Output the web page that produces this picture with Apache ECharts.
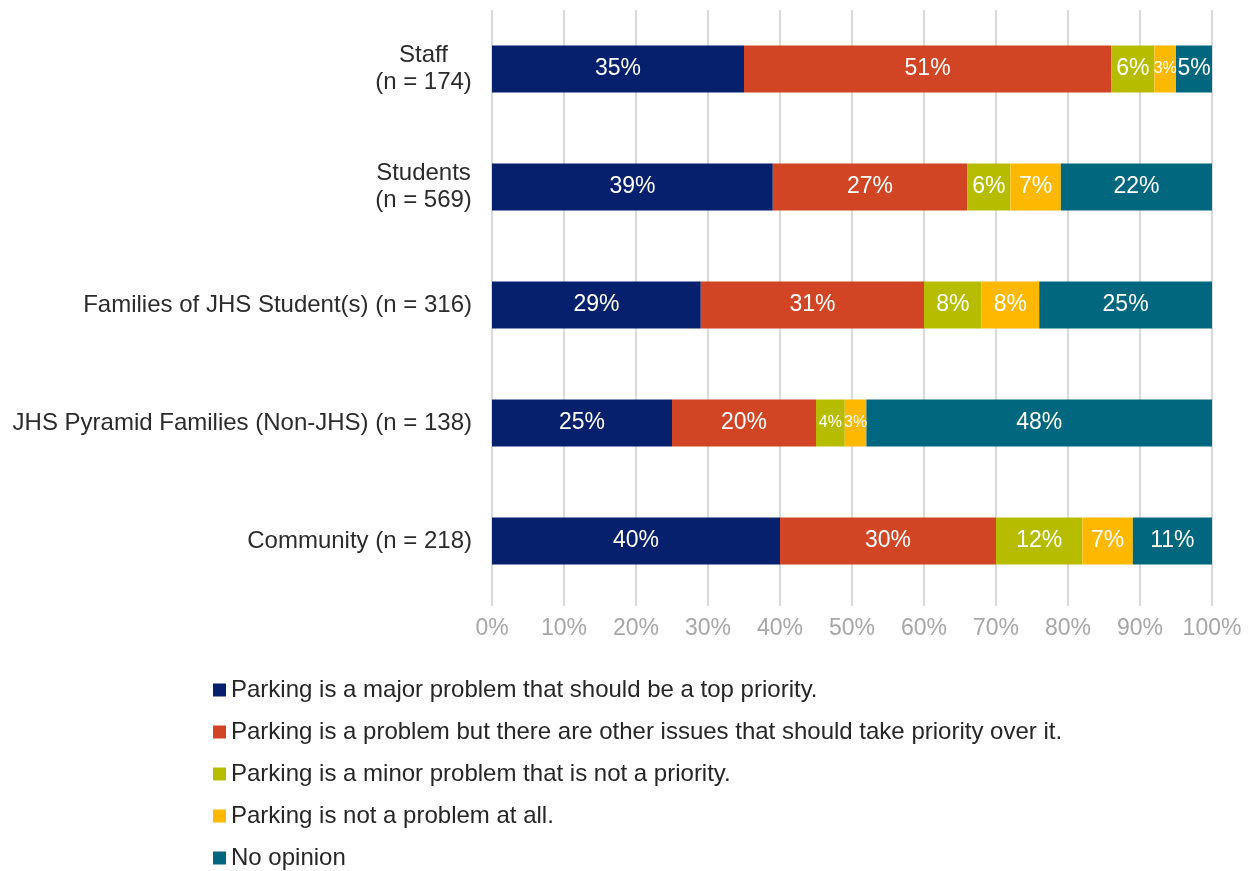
<!DOCTYPE html>
<html>
<head>
<meta charset="utf-8">
<script src="https://cdn.jsdelivr.net/npm/echarts@6/dist/echarts.min.js"></script>
<style>
html, body { margin: 0; padding: 0; background: #fff; }
#chart { width: 1250px; height: 871px; }
</style>
</head>
<body>
<div id="chart"></div>
<script>
var groups = ['Staff\n(n = 174)', 'Students\n(n = 569)', 'Families of JHS Student(s) (n = 316)', 'JHS Pyramid Families (Non-JHS) (n = 138)', 'Community (n = 218)'];
var answers = [
    'Parking is a major problem that should be a top priority.',
    'Parking is a problem but there are other issues that should take priority over it.',
    'Parking is a minor problem that is not a priority.',
    'Parking is not a problem at all.',
    'No opinion'
];
var majorVals = [35, 39, 29, 25, 40];
var otherVals = [51, 27, 31, 20, 30];
var minorVals = [6, 6, 8, 4, 12];
var notVals = [3, 7, 8, 3, 7];
var noOpVals = [5, 22, 25, 48, 11];
var colors = ['#06206e', '#d14524', '#b6bd00', '#ffb800', '#00677f'];

var allVals = [majorVals, otherVals, minorVals, notVals, noOpVals];
var fontNm = 'Liberation Sans, Arial, sans-serif';

var mychart = echarts.init(document.getElementById('chart'));
var seriesData = [];
answers.forEach(function (name, i) {
    seriesData.push({
        name: name,
        type: 'bar',
        stack: 'all',
        barWidth: '40%',
        itemStyle: {color: colors[i]},
        label: {
            show: true,
            position: 'inside',
            color: '#fff',
            fontSize: 23,
            fontFamily: fontNm,
            formatter: '{c}%'
        },
        data: allVals[i].map(function (v) {
            // small segments get a smaller label
            if (v <= 4) {
                return {value: v, label: {fontSize: 16}};
            }
            return v;
        })
    });
});

var option = {
    animation: false,
    textStyle: {fontFamily: fontNm},
    grid: {left: 492, right: 38, top: 10, bottom: 271},
    legend: {
        orient: 'vertical',
        left: 208,
        top: 673,
        height: 220,
        itemWidth: 13,
        itemHeight: 13,
        itemGap: 18,
        icon: 'rect',
        textStyle: {fontSize: 24, lineHeight: 24, color: '#262626', fontFamily: fontNm},
        data: answers
    },
    xAxis: {
        type: 'value',
        min: 0,
        max: 100,
        interval: 10,
        axisLine: {show: false},
        axisTick: {show: true, length: 6, lineStyle: {color: '#d9d9d9', width: 2}},
        splitLine: {lineStyle: {color: '#d9d9d9', width: 2}},
        axisLabel: {
            formatter: '{value}%',
            color: '#a6a6a6',
            fontSize: 23,
            fontFamily: fontNm,
            margin: 17
        }
    },
    yAxis: {
        type: 'category',
        inverse: true,
        data: groups,
        axisLine: {show: false},
        axisTick: {show: false},
        axisLabel: {
            color: '#2b2b2b',
            fontSize: 24,
            fontFamily: fontNm,
            lineHeight: 27,
            margin: 20,
            align: 'right',
            formatter: function (value) {
                if (value.indexOf('\n') < 0) {
                    return value;
                }
                // two-line labels are centred on each other
                return value.split('\n').map(function (s) {
                    return '{c|' + s + '}';
                }).join('\n');
            },
            rich: {
                c: {width: 97, align: 'center', fontSize: 24, lineHeight: 27, color: '#2b2b2b', fontFamily: fontNm}
            }
        }
    },
    series: seriesData
};
mychart.setOption(option);
</script>
</body>
</html>
